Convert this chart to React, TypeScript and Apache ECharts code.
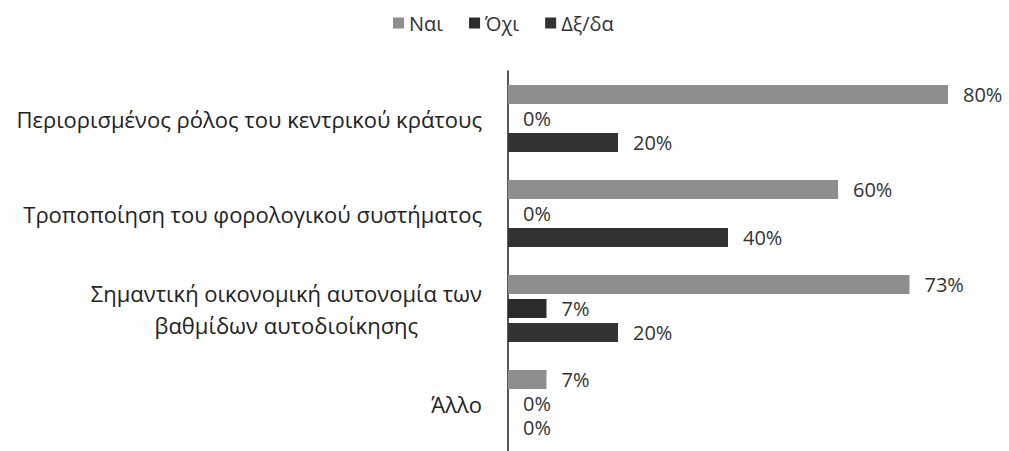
import React, { useEffect, useRef } from "react";
import * as echarts from "echarts";

const categories = [
  "Περιορισμένος ρόλος του κεντρικού κράτους",
  "Τροποποίηση του φορολογικού συστήματος",
  "Σημαντική οικονομική αυτονομία των\nβαθμίδων αυτοδιοίκησης",
  "Άλλο",
];
const seriesNames = ["Ναι", "Όχι", "Δξ/δα"];
const yesValues = [80, 60, 73, 7];
const noValues = [0, 0, 7, 0];
const dkValues = [20, 40, 20, 0];
const colors = ["#8e8e8e", "#2c2c2c", "#333333"];

const FONT = "'Open Sans', 'Noto Sans', sans-serif";

export default function App() {
  const ref = useRef<HTMLDivElement>(null);
  useEffect(() => {
    if (!ref.current) return;
    const chart = echarts.init(ref.current, undefined, { renderer: "svg" });
    const mk = (name: string, data: number[], color: string) => ({
      name,
      type: "bar",
      data,
      barWidth: 19,
      barGap: "26%",
      itemStyle: { color },
      label: {
        show: true,
        position: "right",
        distance: 15,
        formatter: "{c}%",
        color: "#333",
        fontSize: 20,
        lineHeight: 22,
        fontFamily: FONT,
      },
    });
    const lab = { fontSize: 22, color: "#222", fontFamily: FONT, lineHeight: 32 };
    chart.setOption({
      animation: false,
      textStyle: { fontFamily: FONT },
      legend: {
        top: 8,
        left: 388,
        itemWidth: 11,
        itemHeight: 11,
        itemGap: 26,
        icon: "rect",
        textStyle: { fontSize: 20, color: "#333", fontFamily: FONT },
        data: seriesNames,
      },
      grid: { left: 508, right: 6, top: 71, height: 390 },
      xAxis: {
        type: "value",
        min: 0,
        max: 90,
        show: false,
      },
      yAxis: {
        type: "category",
        inverse: true,
        data: categories,
        axisLine: { show: true, lineStyle: { color: "#222", width: 1.5 } },
        axisTick: { show: false },
        axisLabel: {
          margin: 26,
          ...lab,
          align: "right",
          formatter: (v: string) =>
            v
              .split("\n")
              .map((l) => `{c|${l}}`)
              .join("\n"),
          rich: { c: { ...lab, align: "center" } },
        },
      },
      series: [
        mk(seriesNames[0], yesValues, colors[0]),
        mk(seriesNames[1], noValues, colors[1]),
        mk(seriesNames[2], dkValues, colors[2]),
      ],
    });
    return () => chart.dispose();
  }, []);
  return <div ref={ref} style={{ width: 1009, height: 451, position: "absolute", left: 0, top: 0 }} />;
}
